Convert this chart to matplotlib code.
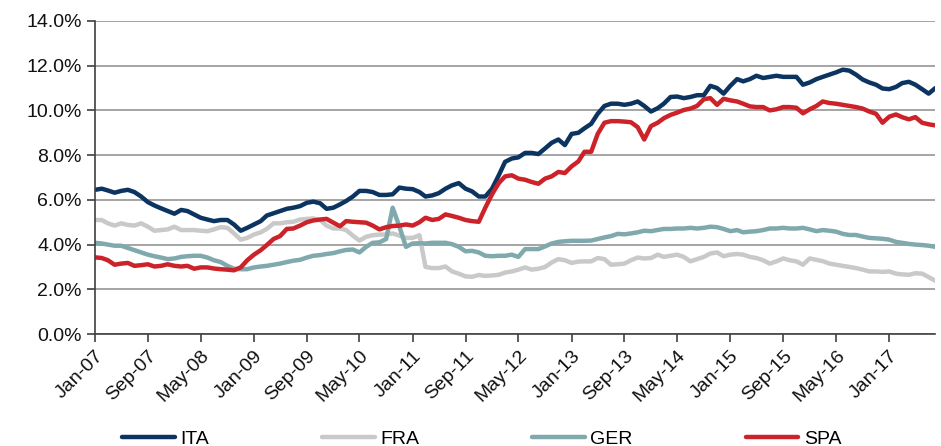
import numpy as np
import pandas as pd
import matplotlib
matplotlib.use("Agg")
import matplotlib.pyplot as plt

plt.rcParams['font.family'] = ['Liberation Sans', 'DejaVu Sans']

# Monthly values, Jan-07 .. Aug-17 (%)
months = pd.date_range("2007-01-01", periods=128, freq="MS")

ita = [6.45, 6.5, 6.42, 6.32, 6.4, 6.45, 6.35, 6.15, 5.9, 5.75,
       5.62, 5.5, 5.38, 5.55, 5.5, 5.35, 5.2, 5.12, 5.05, 5.1,
       5.1, 4.9, 4.62, 4.75, 4.9, 5.05, 5.3, 5.4, 5.5, 5.6,
       5.65, 5.72, 5.87, 5.92, 5.85, 5.6, 5.65, 5.8, 5.95, 6.15,
       6.4, 6.4, 6.35, 6.22, 6.22, 6.25, 6.55, 6.5, 6.48, 6.35,
       6.15, 6.2, 6.3, 6.5, 6.65, 6.75, 6.5, 6.38, 6.15, 6.15,
       6.5, 7.1, 7.7, 7.85, 7.9, 8.1, 8.1, 8.05, 8.3, 8.55,
       8.7, 8.45, 8.95, 9.0, 9.2, 9.4, 9.85, 10.2, 10.3, 10.3,
       10.25, 10.3, 10.4, 10.2, 9.95, 10.1, 10.3, 10.6, 10.62, 10.55,
       10.6, 10.68, 10.68, 11.1, 11.0, 10.75, 11.1, 11.4, 11.3, 11.4,
       11.55, 11.45, 11.5, 11.55, 11.5, 11.5, 11.5, 11.15, 11.25, 11.4,
       11.5, 11.6, 11.7, 11.82, 11.78, 11.6, 11.38, 11.25, 11.15, 10.98,
       10.95, 11.05, 11.22, 11.28, 11.15, 10.95, 10.75, 11.0]

fra = [5.1, 5.1, 4.95, 4.85, 4.95, 4.88, 4.85, 4.95, 4.8, 4.62,
       4.65, 4.68, 4.8, 4.65, 4.65, 4.65, 4.62, 4.6, 4.68, 4.78,
       4.75, 4.5, 4.22, 4.3, 4.45, 4.55, 4.7, 4.95, 4.95, 5.0,
       5.02, 5.12, 5.15, 5.17, 5.1, 4.85, 4.72, 4.72, 4.65, 4.4,
       4.18, 4.35, 4.42, 4.45, 4.45, 4.5, 4.4, 4.3, 4.3, 4.42,
       3.0, 2.95, 2.95, 3.02, 2.8, 2.7, 2.58, 2.56, 2.64, 2.6,
       2.62, 2.65, 2.75, 2.8, 2.88, 2.98, 2.88, 2.92, 3.0, 3.2,
       3.35, 3.3, 3.18, 3.24, 3.25, 3.25, 3.4, 3.35, 3.1, 3.12,
       3.15, 3.3, 3.42, 3.38, 3.4, 3.55, 3.45, 3.5, 3.55, 3.45,
       3.25, 3.35, 3.45, 3.6, 3.65, 3.48, 3.55, 3.58, 3.55, 3.45,
       3.4, 3.3, 3.15, 3.25, 3.38, 3.3, 3.25, 3.1, 3.38, 3.32,
       3.26, 3.15, 3.1, 3.05, 3.0, 2.95, 2.88, 2.8, 2.8, 2.78,
       2.8, 2.7, 2.67, 2.65, 2.72, 2.7, 2.55, 2.38]

ger = [4.08, 4.05, 4.0, 3.95, 3.95, 3.85, 3.75, 3.65, 3.55, 3.48,
       3.42, 3.35, 3.38, 3.45, 3.48, 3.5, 3.5, 3.42, 3.3, 3.22,
       3.05, 2.92, 2.9, 2.9, 2.98, 3.02, 3.05, 3.1, 3.15, 3.22,
       3.28, 3.32, 3.42, 3.5, 3.53, 3.58, 3.62, 3.7, 3.76, 3.78,
       3.65, 3.9, 4.08, 4.1, 4.25, 5.65, 4.8, 3.9, 4.05, 4.06,
       4.05, 4.08, 4.08, 4.08, 4.02, 3.9, 3.7, 3.72, 3.65, 3.5,
       3.48, 3.5, 3.5, 3.55, 3.45, 3.8, 3.8, 3.8, 3.92, 4.05,
       4.12, 4.15, 4.17, 4.17, 4.17, 4.18, 4.25, 4.32, 4.38, 4.48,
       4.46, 4.5, 4.55, 4.62, 4.6, 4.65, 4.7, 4.7, 4.72, 4.72,
       4.75, 4.72, 4.75, 4.8, 4.78, 4.7, 4.6, 4.65, 4.55, 4.58,
       4.6, 4.65, 4.72, 4.72, 4.75, 4.72, 4.72, 4.75, 4.68, 4.6,
       4.65, 4.62, 4.58, 4.48, 4.43, 4.43, 4.36, 4.3, 4.28, 4.26,
       4.22, 4.12, 4.08, 4.03, 4.0, 3.98, 3.95, 3.9]

spa = [3.43, 3.4, 3.3, 3.1, 3.15, 3.18, 3.05, 3.08, 3.12, 3.02,
       3.05, 3.12, 3.05, 3.02, 3.05, 2.92, 2.98, 2.98, 2.93, 2.9,
       2.88, 2.85, 2.98, 3.3, 3.55, 3.75, 3.98, 4.25, 4.38, 4.7,
       4.72, 4.85, 5.0, 5.08, 5.12, 5.15, 4.98, 4.82, 5.05, 5.02,
       5.0, 4.98, 4.85, 4.68, 4.78, 4.83, 4.85, 4.9, 4.85, 5.0,
       5.2, 5.1, 5.15, 5.35, 5.28, 5.2, 5.1, 5.05, 5.02, 5.65,
       6.25, 6.75, 7.05, 7.1, 6.95, 6.9, 6.8, 6.72, 6.95, 7.05,
       7.25, 7.2, 7.5, 7.72, 8.15, 8.15, 8.95, 9.45, 9.52, 9.52,
       9.5, 9.47, 9.25, 8.7, 9.3, 9.45, 9.65, 9.8, 9.9, 10.02,
       10.08, 10.2, 10.5, 10.55, 10.25, 10.52, 10.45, 10.4, 10.3, 10.18,
       10.15, 10.15, 10.0, 10.05, 10.15, 10.15, 10.12, 9.87, 10.05, 10.2,
       10.4, 10.33, 10.3, 10.25, 10.2, 10.15, 10.08, 9.95, 9.85, 9.45,
       9.72, 9.82, 9.7, 9.6, 9.7, 9.45, 9.38, 9.33]

series = [("ITA", ita, "#0c3461"), ("FRA", fra, "#c9c9c9"),
          ("GER", ger, "#80a9ae"), ("SPA", spa, "#cc2229")]

fig = plt.figure(figsize=(9.41, 4.46), dpi=100)
ax = fig.add_axes([0.101, 0.251, 0.893, 0.702])

for name, vals, col in series:
    ax.plot(months, np.array(vals) / 100, color=col, lw=3.2,
            solid_capstyle="round", solid_joinstyle="round", label=name)

ax.set_ylim(0, 0.14)
ax.set_yticks(np.arange(0, 0.141, 0.02))
ax.set_yticklabels([f"{v:.1f}%" for v in np.arange(0, 14.1, 2)], fontsize=14)
ax.yaxis.grid(True, color="#8c8c8c", lw=1.1)
ax.set_axisbelow(True)

ax.set_xlim(months[0], months[-1])
ticks = months[::8]
ax.set_xticks(ticks)
ax.set_xticklabels([d.strftime("%b-%y") for d in ticks], fontsize=14,
                   rotation=45, ha="right", rotation_mode="anchor")

for s in ["top", "right"]:
    ax.spines[s].set_visible(False)
for s in ["left", "bottom"]:
    ax.spines[s].set_color("#404040")
    ax.spines[s].set_linewidth(1.2)
ax.tick_params(axis="both", length=6, color="#404040", width=1.2, labelcolor="#111111")

fig.legend(loc="center", bbox_to_anchor=(0.512, 0.016), ncol=4, frameon=False,
           fontsize=14, handlelength=2.7, columnspacing=5.8, handletextpad=0.3)

fig.savefig("out.png", dpi=100)
